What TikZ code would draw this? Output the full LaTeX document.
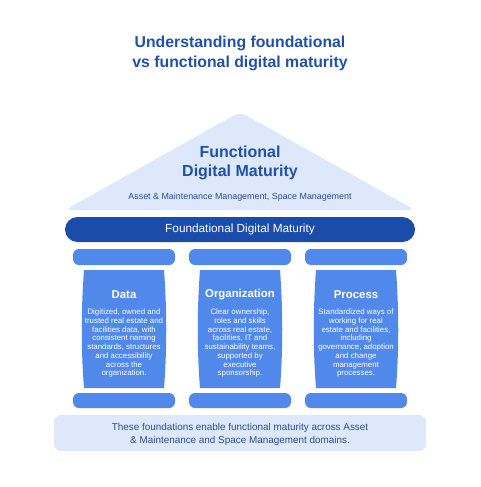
\documentclass[tikz,border=0pt]{standalone}
\usepackage{fontspec}
\setmainfont{Liberation Sans}
\usetikzlibrary{calc}
\definecolor{titleblue}{HTML}{2050AC}
\definecolor{lightbg}{HTML}{DDE9FA}
\definecolor{darkbar}{HTML}{1C4CAA}
\definecolor{colblue}{HTML}{5189EA}
\definecolor{subtext}{HTML}{2A4C9A}
\tikzset{
  titletext/.style={text=titleblue, font=\fontsize{15.8}{20}\selectfont\bfseries, align=center},
  rooftitle/.style={text=titleblue, font=\fontsize{16}{19}\selectfont\bfseries, align=center},
  roofsub/.style={text=subtext, font=\fontsize{8.9}{10}\selectfont},
  bartext/.style={text=white, font=\fontsize{11.8}{13}\selectfont},
  slab/.style={fill=colblue, rounded corners=6pt},
  colhead/.style={text=white, font=\fontsize{11.4}{14}\selectfont\bfseries},
  colbody/.style={text=white, font=\fontsize{7.85}{8.75}\selectfont, align=center},
  foottext/.style={text=subtext, font=\fontsize{9.9}{13}\selectfont, align=center},
}
\begin{document}
\begin{tikzpicture}[x=1pt,y=-1pt]
\useasboundingbox[fill=white] (0,0) rectangle (480,487);
% title
\node[titletext] (title) at (240,53) {Understanding foundational\\vs functional digital maturity};
% roof
\fill[lightbg, rounded corners=7pt] (65,210) -- (240,112) -- (415,210) -- cycle;
\node[rooftitle] (rooft) at (240,163) {Functional\\Digital Maturity};
\node[roofsub] (roofs) at (240,197) {Asset \& Maintenance Management, Space Management};
% foundational bar
\fill[darkbar, rounded corners=12.5pt] (65,217) rectangle (415,242);
\node[bartext] (bar) at (240,229.5) {Foundational Digital Maturity};
% columns
\foreach \c/\h/\b [count=\i] in {124/Data/{Digitized, owned and\\trusted real estate and\\facilities data, with\\consistent naming\\standards, structures\\and accessibility\\across the\\organization.},
  240/Organization/{Clear ownership,\\roles and skills\\across real estate,\\facilities, IT and\\sustainability teams,\\supported by\\executive\\sponsorship.},
  356/Process/{Standardized ways of\\working for real\\estate and facilities,\\including\\governance, adoption\\and change\\management\\processes.}}{
  \fill[slab] (\c-51,249) rectangle (\c+51,265);
  \fill[slab] (\c-51,393) rectangle (\c+51,408);
  \fill[colblue] (\c-40,270) .. controls (\c-43,310) and (\c-43,350) .. (\c-40,388)
     -- (\c+40,388) .. controls (\c+43,350) and (\c+43,310) .. (\c+40,270) -- cycle;
  \node[colhead] (h\i) at (\c,295) {\h};
  \node[colbody, anchor=north] (b\i) at (\c,305.5) {\b};
}
% footer
\fill[lightbg, rounded corners=7pt] (54,415) rectangle (426,451);
\node[foottext] (foot) at (240,434) {These foundations enable functional maturity across Asset\\\& Maintenance and Space Management domains.};
\end{tikzpicture}
\end{document}
